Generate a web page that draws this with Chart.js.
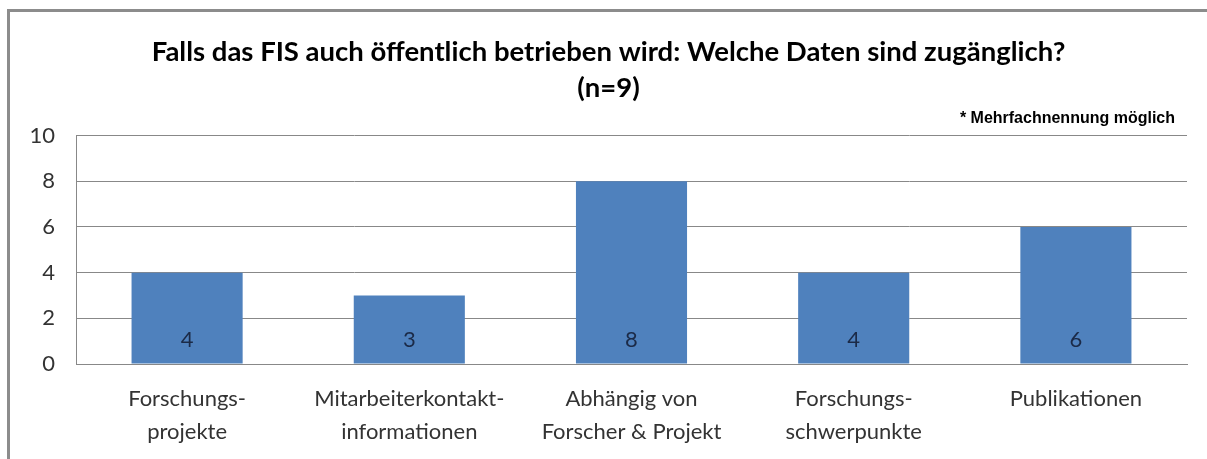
<!DOCTYPE html>
<html>
<head>
<meta charset="utf-8">
<script src="https://cdn.jsdelivr.net/npm/chart.js@4"></script>
<style>
  html, body { margin: 0; padding: 0; background: #fff; }
  #wrap { position: relative; width: 1207px; height: 459px; overflow: hidden; }
  #frame { position: absolute; left: 7px; top: 9px; width: 1300px; height: 600px; border: 3px solid #8c8c8c; box-sizing: border-box; }
  canvas { position: absolute; left: 0; top: 0; }
</style>
</head>
<body>
<div id="wrap">
  <div id="frame"></div>
  <canvas id="chart" width="1207" height="459"></canvas>
</div>
<script>
const categories = [
  ["Forschungs-", "projekte"],
  ["Mitarbeiterkontakt-", "informationen"],
  ["Abhängig von", "Forscher & Projekt"],
  ["Forschungs-", "schwerpunkte"],
  ["Publikationen"]
];
const counts = [4, 3, 8, 4, 6];
const yTicks = [0, 2, 4, 6, 8, 10];
const titleLines = ["Falls das FIS auch öffentlich betrieben wird: Welche Daten sind zugänglich?", "(n=9)"];
const note = "* Mehrfachnennung möglich";

const extras = {
  id: "extras",
  afterDatasetsDraw(chart) {
    const ctx = chart.ctx;
    const meta = chart.getDatasetMeta(0);
    ctx.save();
    ctx.font = "22px Lato";
    ctx.fillStyle = "#1b2a47";
    ctx.textAlign = "center";
    ctx.textBaseline = "middle";
    meta.data.forEach((bar, i) => {
      ctx.fillText(String(counts[i]), bar.x, bar.base - 24);
    });
    ctx.font = "bold 16px 'Liberation Sans'";
    ctx.fillStyle = "#000";
    ctx.textAlign = "right";
    ctx.fillText(note, chart.chartArea.right - 12, chart.chartArea.top - 17);
    ctx.restore();
  }
};

new Chart(document.getElementById("chart"), {
  type: "bar",
  data: {
    labels: categories,
    datasets: [
      {
        data: counts,
        backgroundColor: "#4f81bd",
        barPercentage: 0.5,
        categoryPercentage: 1
      }
    ]
  },
  options: {
    responsive: false,
    animation: false,
    layout: { padding: { left: 30, right: 20, top: 0, bottom: 0 } },
    plugins: {
      legend: { display: false },
      tooltip: { enabled: false },
      title: {
        display: true,
        text: titleLines,
        color: "#000",
        font: { family: "Lato", size: 27.5, weight: "bold", lineHeight: 1.32 },
        padding: { top: 34, bottom: 29 }
      }
    },
    scales: {
      x: {
        afterFit(scale) { scale.height = 95; },
        grid: { display: false, drawTicks: false },
        border: { display: true, color: "#888", width: 1 },
        ticks: {
          color: "#333",
          font: { family: "Lato", size: 22, lineHeight: 1.5 },
          padding: 18,
          maxRotation: 0,
          autoSkip: false
        }
      },
      y: {
        min: 0,
        max: 10,
        afterFit(scale) { scale.width = 46; },
        afterBuildTicks(scale) { scale.ticks = yTicks.map((v) => ({ value: v })); },
        grid: { color: "#888", drawTicks: false },
        border: { display: true, color: "#888", width: 1 },
        ticks: {
          color: "#333",
          font: { family: "Lato", size: 22 },
          padding: 21
        }
      }
    }
  },
  plugins: [extras]
});
</script>
</body>
</html>
